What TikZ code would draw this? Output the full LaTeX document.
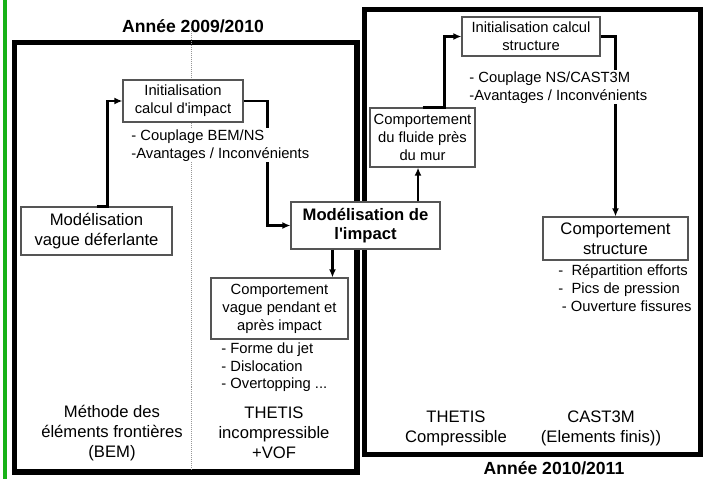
\documentclass[tikz,border=0pt]{standalone}
\usepackage{fontspec}
\newfontfamily\arial{Liberation Sans}
\usepackage{tikz}
\usetikzlibrary{calc, arrows.meta}
\tikzset{>=latex}
\definecolor{mygreen}{RGB}{24, 178, 24}
\definecolor{mygray1}{RGB}{85, 85, 85}
\definecolor{mygray2}{RGB}{150, 150, 150}

\begin{document}
\begin{tikzpicture}[
    x = 0.03cm, y = -0.03cm,
    fr/.style = {line width = 4.3pt},
    bx/.style = {draw = mygray1, line width = 0.9pt, fill = white, align = center, inner sep = 0pt, font = \arial\fontsize{12.6}{15.3}\selectfont},
    bx2/.style = {bx, font = \arial\fontsize{14.2}{17}\selectfont},
    arr/.style = {line width = 2.2pt, -{Latex[length=7pt, width=6pt]}},
    txt/.style = {align = left, anchor = north west, inner sep = 1pt, font = \arial\fontsize{12.6}{15.3}\selectfont},
    lbl/.style = {align = center, font = \arial\fontsize{14.2}{17}\selectfont},
    ttl/.style = {font = \arial\bfseries\fontsize{15}{18}\selectfont},
]
\useasboundingbox (0,0) rectangle (708,479);

% cadres des deux annees
\fill[mygreen] (3,0) rectangle (7,479);
\draw[fr] (14.5,42.5) rectangle (357,472);
\draw[fr] (364.5,9.5) rectangle (700.5,454.5);
\draw[mygray2, densely dotted, line width = 0.7pt] (191,25) -- (191,470);

\node[ttl] (an1) at (193,26) {Année 2009/2010};
\node[ttl] (an2) at (554,468) {Année 2010/2011};

% boites
\node[bx, minimum width = 3.6cm, minimum height = 1.26cm] (init1) at (183,101) {Initialisation\\calcul d'impact};
\node[bx2, minimum width = 4.53cm, minimum height = 1.44cm] (vague) at (96.5,231) {Modélisation\\vague déferlante};
\node[bx, font = \arial\bfseries\fontsize{14.2}{16.2}\selectfont, minimum width = 4.47cm, minimum height = 1.41cm] (modimp) at (365.5,225.5) {Modélisation de\\l'impact};
\node[bx, minimum width = 4.11cm, minimum height = 1.83cm] (compvague) at (279.5,308.5) {Comportement\\vague pendant et\\après impact};
\node[bx, minimum width = 3.15cm, minimum height = 1.77cm] (fluide) at (422.5,137.5) {Comportement\\du fluide près\\du mur};
\node[bx, minimum width = 4.14cm, minimum height = 1.17cm] (init2) at (531,36.5) {Initialisation calcul\\structure};
\node[bx2, minimum width = 4.35cm, minimum height = 1.29cm] (compstruct) at (615.5,238.5) {Comportement\\structure};

% fleches
\path ($(modimp.south west)!0.28!(modimp.south east)$) coordinate (m1);
\path ($(modimp.north west)!0.85!(modimp.north east)$) coordinate (m2);
\draw[arr] (vague.north) -- ++(11,0) |- (init1.west);
\draw[arr] (init1.east) -- ++(24,0) |- (modimp.west);
\draw[arr] (m1) -- (m1 |- compvague.north);
\draw[arr] (m2) -- (m2 |- fluide.south);
\draw[arr] (fluide.north) -- ++(22,0) |- (init2.west);
\draw[arr] (init2.east) -| (compstruct.north);

% textes
\node[txt, fill = white] (cpl1) at (130,128) {- Couplage BEM/NS\\-Avantages / Inconvénients};
\node[txt, fill = white] (cpl2) at (468,70) {- Couplage NS/CAST3M\\-Avantages / Inconvénients};
\node[txt] (jet) at (220,341) {- Forme du jet\\- Dislocation\\- Overtopping ...};
\node[txt] (eff) at (557,263) {-\ \ Répartition efforts\\-\ \ Pics de pression\\\hspace*{3pt}- Ouverture fissures};

\node[lbl] (bem) at (112,433) {Méthode des\\éléments frontières\\(BEM)};
\node[lbl] (thetis1) at (274,433) {THETIS\\incompressible\\+VOF};
\node[lbl] (thetis2) at (456,428) {THETIS\\Compressible};
\node[lbl] (cast) at (601,428) {CAST3M\\(Elements finis))};
\end{tikzpicture}
\end{document}
